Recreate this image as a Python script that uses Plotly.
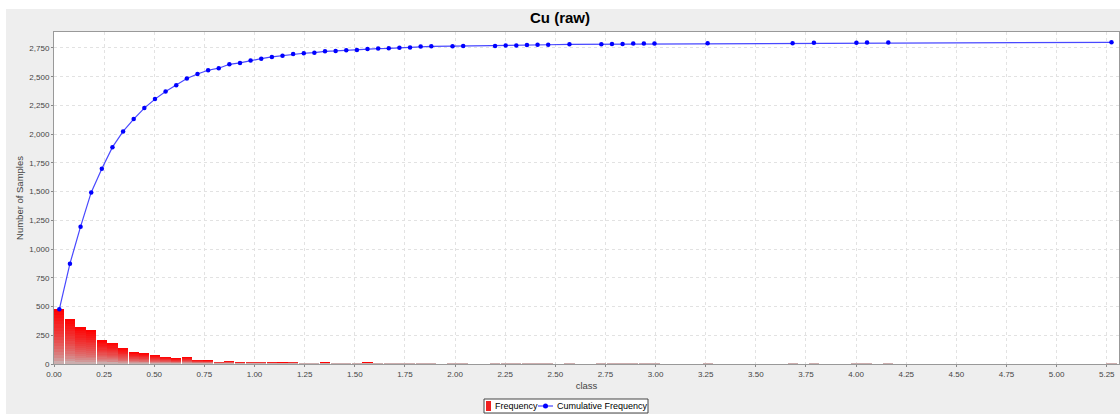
import plotly.graph_objects as go

# ---------------- data ----------------
title_text = "Cu (raw)"
bin_width = 0.053
n_bins = 100

# frequency per class bin, 100 bins starting at 0
frequency = [
    476, 394, 319, 292, 206, 183, 136, 102, 93, 75,
    61, 49, 58, 37, 34, 16, 25, 12, 15, 15,
    12, 9, 14, 7, 7, 9, 4, 4, 4, 9,
    4, 3, 4, 2, 5, 2, 0, 2, 1, 0,
    0, 2, 3, 1, 3, 1, 1, 0, 3, 0,
    0, 1, 1, 1, 3, 1, 1, 0, 0, 0,
    0, 2, 0, 0, 0, 0, 0, 0, 0, 1,
    0, 3, 0, 0, 0, 1, 1, 0, 1, 0,
    0, 0, 0, 0, 0, 0, 0, 0, 0, 0,
    0, 0, 0, 0, 0, 0, 0, 0, 0, 1,
]

# cumulative frequency points (bin index, value)
cum_bins = [0, 1, 2, 3, 4, 5, 6, 7, 8, 9, 10, 11, 12, 13, 14, 15, 16, 17, 18, 19,
            20, 21, 22, 23, 24, 25, 26, 27, 28, 29, 30, 31, 32, 33, 34, 35, 37, 38,
            41, 42, 43, 44, 45, 46, 48, 51, 52, 53, 54, 55, 56, 61, 69, 71, 75, 76,
            78, 99]
cum_values = [476, 873, 1195, 1493, 1700, 1887, 2024, 2131, 2227, 2305, 2371, 2426,
              2484, 2524, 2556, 2574, 2608, 2620, 2640, 2657, 2672, 2683, 2698, 2704,
              2709, 2721, 2724, 2730, 2733, 2740, 2745, 2747, 2752, 2754, 2762, 2764,
              2766, 2767, 2768, 2771, 2772, 2776, 2777, 2778, 2782, 2783, 2784, 2785,
              2788, 2789, 2790, 2791, 2792, 2795, 2796, 2797, 2798, 2799]

series_names = ["Frequency", "Cumulative Frequency"]
x_tick_vals = [i * 0.25 for i in range(22)]
y_tick_vals = [i * 250 for i in range(12)]

# ---------------- figure ----------------
W, H = 1120, 414
ML, MR, MT, MB = 54, 1, 32, 50
PW, PH = W - ML - MR, H - MT - MB


def px(xp):
    return (xp - ML) / PW


def py(yp):
    return (H - MB - yp) / PH


centers = [(i + 0.5) * bin_width for i in range(n_bins)]
cum_x = [(b + 0.5) * bin_width for b in cum_bins]

fig = go.Figure()

red = (255, 0, 0)
gray = (196, 196, 196)
N = 18
for k in range(N, 0, -1):
    frac = k / N
    t = (k - 0.5) / N
    w = t ** 0.6
    col = tuple(int(round(gray[j] + (red[j] - gray[j]) * w)) for j in range(3))
    fig.add_trace(go.Bar(
        x=centers,
        y=[f * frac for f in frequency],
        width=bin_width * 0.96,
        marker=dict(color="rgb(%d,%d,%d)" % col, line=dict(width=0)),
        name=series_names[0],
        showlegend=False,
        hoverinfo="skip" if k != N else None,
    ))

fig.add_trace(go.Scatter(
    x=cum_x, y=cum_values, mode="lines+markers",
    name=series_names[1], showlegend=False,
    line=dict(color="rgba(40,40,255,0.85)", width=1.2),
    marker=dict(color="#0000FF", size=4.5),
))

FONT = "Liberation Sans, Arial, sans-serif"
axis_font = dict(family=FONT, size=8, color="#444444")

# legend drawn as a boxed key below the plot
shapes = [
    dict(type="rect", xref="paper", yref="paper", x0=px(-60), x1=px(6),
         y0=py(420), y1=py(-10), fillcolor="#FFFFFF", line=dict(width=0), layer="below"),
    dict(type="rect", xref="paper", yref="paper", x0=px(-60), x1=px(1130),
         y0=py(9), y1=py(-10), fillcolor="#FFFFFF", line=dict(width=0), layer="below"),
    dict(type="rect", xref="paper", yref="paper", x0=px(484), x1=px(648),
         y0=py(413), y1=py(399), fillcolor="#FFFFFF", line=dict(color="#444444", width=1)),
    dict(type="rect", xref="paper", yref="paper", x0=px(486), x1=px(491),
         y0=py(411), y1=py(401), fillcolor="#F02020", line=dict(width=0)),
    dict(type="line", xref="paper", yref="paper", x0=px(538), x1=px(553),
         y0=py(406), y1=py(406), line=dict(color="rgba(40,40,255,0.85)", width=1.2)),
    dict(type="circle", xref="paper", yref="paper", x0=px(543), x1=px(548),
         y0=py(408.5), y1=py(403.5), fillcolor="#0000FF", line=dict(width=0)),
]
annotations = [
    dict(text=series_names[0], xref="paper", yref="paper", x=px(493), y=py(406),
         xanchor="left", yanchor="middle", showarrow=False,
         font=dict(family=FONT, size=9, color="#000000")),
    dict(text=series_names[1], xref="paper", yref="paper", x=px(555), y=py(406),
         xanchor="left", yanchor="middle", showarrow=False,
         font=dict(family=FONT, size=9, color="#000000")),
]

fig.update_layout(
    width=W, height=H,
    margin=dict(l=ML, r=MR, t=MT, b=MB, autoexpand=False),
    paper_bgcolor="#EEEEEE",
    plot_bgcolor="#FFFFFF",
    barmode="overlay",
    bargap=0,
    showlegend=False,
    title=dict(text="<b>" + title_text + "</b>", x=0.5, xanchor="center",
               y=1 - 18 / H, yanchor="middle",
               font=dict(family=FONT, size=15, color="#000000")),
    font=axis_font,
    shapes=shapes,
    annotations=annotations,
)

fig.update_xaxes(
    range=[0, 5.311],
    tickvals=x_tick_vals, tickformat=".2f",
    ticks="outside", ticklen=2, tickcolor="#888888",
    showgrid=True, gridcolor="#E2E2E2", griddash="dot", gridwidth=1,
    showline=True, linecolor="#999999", linewidth=1, mirror=True,
    zeroline=False, automargin=False,
    title=dict(text="class", font=dict(family=FONT, size=9.5, color="#444444"), standoff=4),
    tickfont=axis_font,
)
fig.update_yaxes(
    range=[0, 2889],
    tickvals=y_tick_vals, tickformat=",d",
    ticks="outside", ticklen=2, tickcolor="#888888",
    showgrid=True, gridcolor="#E2E2E2", griddash="dot", gridwidth=1,
    showline=True, linecolor="#999999", linewidth=1, mirror=True,
    zeroline=False, automargin=False,
    title=dict(text="Number of Samples", font=dict(family=FONT, size=9.5, color="#444444"), standoff=4),
    tickfont=axis_font,
)

fig.write_html("out.html")
